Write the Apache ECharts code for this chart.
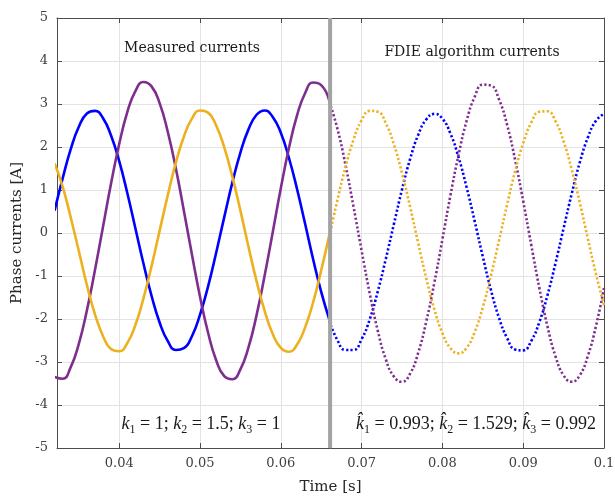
<!DOCTYPE html>
<html><head><meta charset="utf-8">
<script src="https://cdn.jsdelivr.net/npm/echarts@6/dist/echarts.min.js"></script>
<style>html,body{margin:0;padding:0;background:#fff}#c{width:615px;height:498px}</style>
</head><body><div id="c"></div>
<script>
// sample times [s]
const time = [0.032,0.033,0.034,0.035,0.036,0.037,0.038,0.039,0.040,0.041,0.042,0.043,0.044,0.045,0.046,0.047,0.048,0.049,0.050,0.051,0.052,0.053,0.054,0.055,0.056,0.057,0.058,0.059,0.060,0.061,0.062,0.063,0.064,0.065,0.066,0.067,0.068,0.069,0.070,0.071,0.072,0.073,0.074,0.075,0.076,0.077,0.078,0.079,0.080,0.081,0.082,0.083,0.084,0.085,0.086,0.087,0.088,0.089,0.090,0.091,0.092,0.093,0.094,0.095,0.096,0.097,0.098,0.099,0.100];
const splitIndex = 34; // 0.066 s : measured -> FDIE
// measured currents (0.032 .. 0.066 s)
const measBlue   = [0.52,1.27,1.95,2.47,2.78,2.84,2.67,2.26,1.67,0.93,0.11,-0.71,-1.46,-2.08,-2.51,-2.72,-2.68,-2.40,-1.90,-1.24,-0.46,0.37,1.17,1.87,2.41,2.75,2.85,2.70,2.33,1.75,1.03,0.22,-0.61,-1.37,-2.01];
const measPurple = [-3.35,-3.39,-3.12,-2.58,-1.80,-0.86,0.15,1.16,2.07,2.81,3.30,3.51,3.41,3.02,2.36,1.51,0.52,-0.50,-1.48,-2.32,-2.96,-3.33,-3.40,-3.17,-2.66,-1.91,-0.99,0.02,1.04,1.97,2.73,3.25,3.50,3.44,3.08];
const measOrange = [1.62,1.08,0.36,-0.42,-1.21,-1.89,-2.40,-2.70,-2.75,-2.56,-2.14,-1.52,-0.77,0.05,0.87,1.63,2.24,2.66,2.85,2.80,2.50,1.99,1.31,0.52,-0.32,-1.12,-1.81,-2.35,-2.67,-2.76,-2.60,-2.20,-1.61,-0.87,-0.05];
// FDIE algorithm currents (0.066 .. 0.100 s)
const fdieBlue   = [-2.04,-2.49,-2.72,-2.72,-2.47,-2.01,-1.36,-0.60,0.21,1.01,1.72,2.28,2.64,2.77,2.66,2.31,1.76,1.06,0.27,-0.55,-1.32,-1.97,-2.44,-2.71,-2.73,-2.51,-2.07,-1.45,-0.70,0.11,0.91,1.64,2.22,2.61,2.77];
const fdiePurple = [3.05,2.43,1.59,0.61,-0.41,-1.40,-2.27,-2.94,-3.34,-3.46,-3.27,-2.79,-2.06,-1.16,-0.15,0.88,1.82,2.61,3.17,3.45,3.43,3.11,2.52,1.70,0.74,-0.28,-1.28,-2.17,-2.87,-3.31,-3.46,-3.31,-2.86,-2.17,-1.28];
const fdieOrange = [-0.08,0.76,1.53,2.17,2.62,2.84,2.82,2.55,2.06,1.39,0.61,-0.23,-1.05,-1.77,-2.33,-2.68,-2.80,-2.67,-2.30,-1.73,-1.00,-0.18,0.65,1.44,2.09,2.57,2.82,2.83,2.60,2.13,1.48,0.71,-0.13,-0.95,-1.68];
const switchTime = 0.0661;
const switchLine = [[switchTime, -5], [switchTime, 5]];
const titles = ['Measured currents', 'FDIE algorithm currents'];
const xName = 'Time [s]';
const yName = 'Phase currents [A]';

const measTime = time.slice(0, splitIndex + 1);
const fdieTime = time.slice(splitIndex);
const pair = (t, v) => t.map((x, i) => [x, v[i]]);

const BLUE = '#0000ff', PURPLE = '#7e2f8e', ORANGE = '#edb120';
const FONT = 'DejaVu Serif';
const LATEX = 'Liberation Serif';
const AX = '#4d4d4d';

function solid(data, color) {
  return {type:'line', data, showSymbol:false, smooth:true, clip:true, z:3,
    lineStyle:{color, width:2.6}};
}
function dotted(data, color) {
  return {type:'line', data, showSymbol:false, smooth:true, clip:true, z:3,
    lineStyle:{color, width:2.6, type:[2.2, 2.2]}};
}

const chart = echarts.init(document.getElementById('c'));
const xCommon = {type:'value', min:0.0323, max:0.1, splitNumber:7,
  axisLine:{show:true, onZero:false, lineStyle:{color:AX, width:1}},
  axisTick:{show:true, inside:true, length:5, lineStyle:{color:AX}}};
const yCommon = {type:'value', min:-5, max:5, interval:1,
  axisLine:{show:true, onZero:false, lineStyle:{color:AX, width:1}},
  axisTick:{show:true, inside:true, length:5, lineStyle:{color:AX}}};

const rich = {
  k:{fontFamily:LATEX, fontStyle:'italic', fontSize:18, fill:'#1a1a1a', lineHeight:24},
  s:{fontFamily:LATEX, fontSize:12, fill:'#1a1a1a', verticalAlign:'bottom', lineHeight:24},
  t:{fontFamily:LATEX, fontSize:18, fill:'#1a1a1a', lineHeight:24}
};

chart.setOption({
  animation:false,
  backgroundColor:'#ffffff',
  grid:{left:57, top:18, right:11, bottom:50, containLabel:false, outerBoundsMode:'none'},
  xAxis:[
    Object.assign({}, xCommon, {position:'bottom', name:xName, nameLocation:'middle', nameGap:32,
      nameTextStyle:{fontFamily:FONT, fontSize:15, color:'#262626'},
      axisLabel:{showMinLabel:false, fontFamily:FONT, fontSize:13, color:'#404040', margin:9,
        formatter:v => String(+v.toFixed(2))},
      splitLine:{show:true, lineStyle:{color:'#e3e3e3', width:1}}}),
    Object.assign({}, xCommon, {position:'top', axisLabel:{show:false}, splitLine:{show:false}})
  ],
  yAxis:[
    Object.assign({}, yCommon, {position:'left', name:yName, nameLocation:'middle', nameGap:28, nameRotate:90,
      nameTextStyle:{fontFamily:FONT, fontSize:15, color:'#262626'},
      axisLabel:{fontFamily:FONT, fontSize:13, color:'#404040', margin:9},
      splitLine:{show:true, lineStyle:{color:'#e3e3e3', width:1}}}),
    Object.assign({}, yCommon, {position:'right', axisLabel:{show:false}, splitLine:{show:false}})
  ],
  series:[
    solid(pair(measTime, measBlue), BLUE),
    solid(pair(measTime, measPurple), PURPLE),
    solid(pair(measTime, measOrange), ORANGE),
    dotted(pair(fdieTime, fdieBlue), BLUE),
    dotted(pair(fdieTime, fdiePurple), PURPLE),
    dotted(pair(fdieTime, fdieOrange), ORANGE),
    {type:'line', data:switchLine, showSymbol:false, silent:true, z:6,
     lineStyle:{color:'#a3a3a3', width:4}}
  ],
  graphic:[
    {type:'text', x:192, y:48, z:10, style:{text:titles[0], fontFamily:FONT, fontSize:14, fill:'#1a1a1a', align:'center', verticalAlign:'middle'}},
    {type:'text', x:472, y:52, z:10, style:{text:titles[1], fontFamily:FONT, fontSize:14, fill:'#1a1a1a', align:'center', verticalAlign:'middle'}},
    {type:'text', x:201, y:424, z:10, style:{
      text:'{k|k}{s|1}{t| = 1; }{k|k}{s|2}{t| = 1.5; }{k|k}{s|3}{t| = 1}',
      align:'center', verticalAlign:'middle', fill:'#1a1a1a', rich}},
    {type:'text', x:476, y:424, z:10, style:{
      text:'{k|k\u0302}{s|1}{t| = 0.993; }{k|k\u0302}{s|2}{t| = 1.529; }{k|k\u0302}{s|3}{t| = 0.992}',
      align:'center', verticalAlign:'middle', fill:'#1a1a1a', rich}}
  ]
});
</script></body></html>
